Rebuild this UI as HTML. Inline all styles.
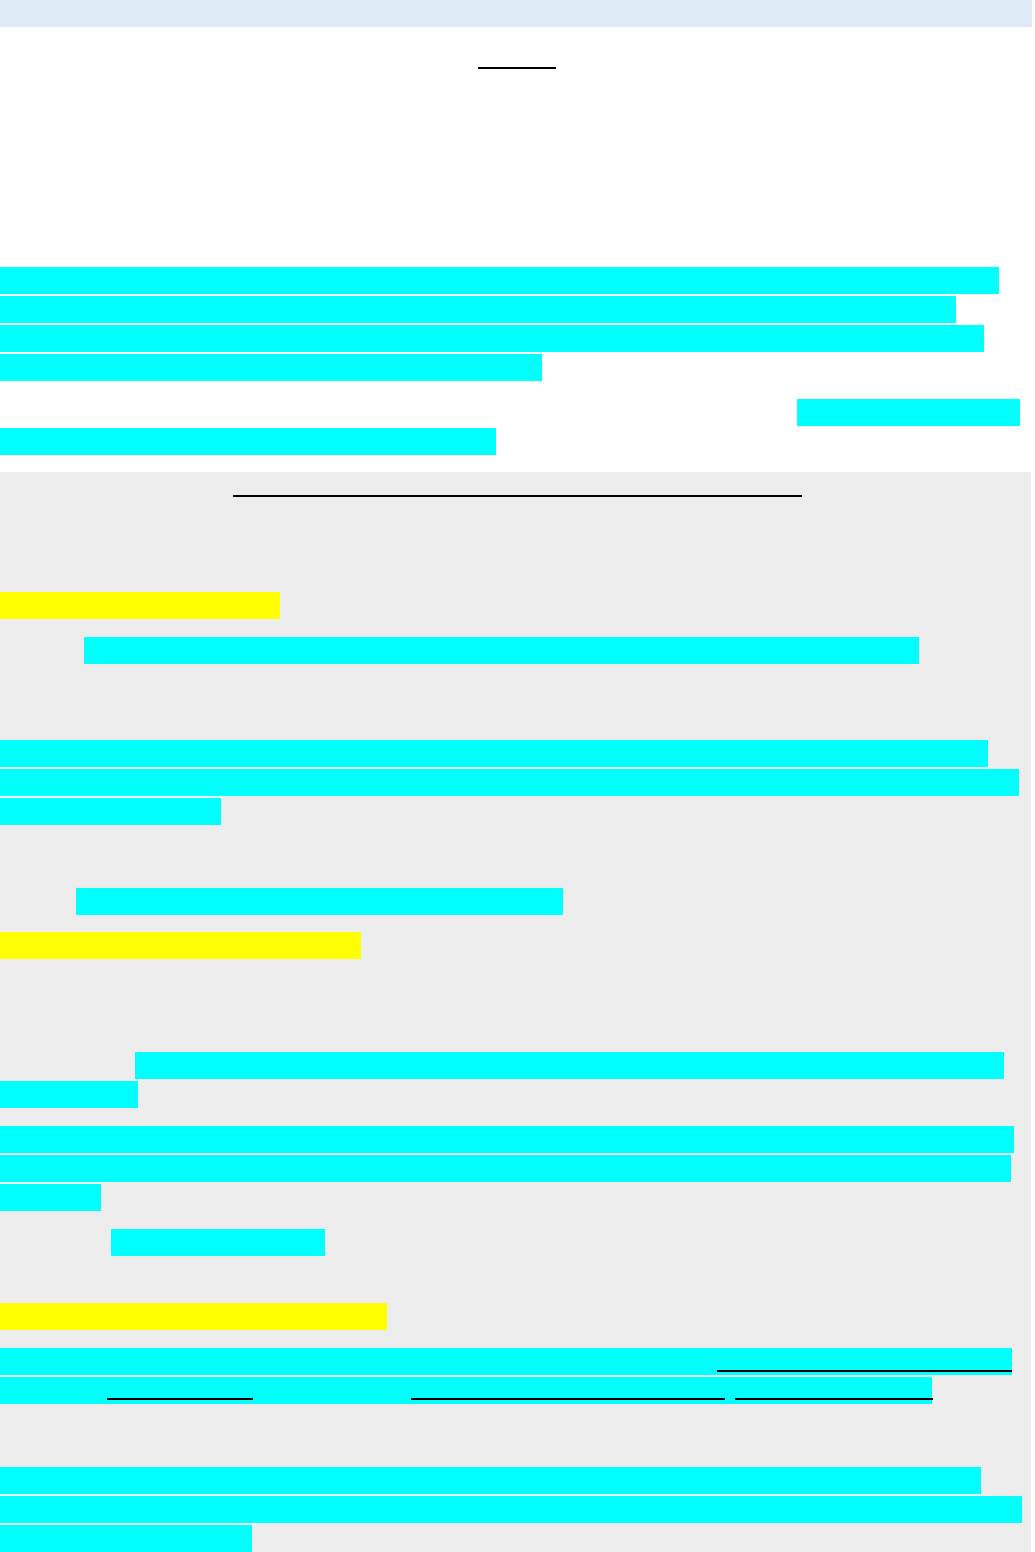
<!DOCTYPE html>
<html><head><meta charset="utf-8"><style>
html,body{margin:0;padding:0;background:#fff;width:1035px;height:1552px;overflow:hidden;position:relative;font-family:"Liberation Sans",sans-serif}
div{position:absolute}
.c{background:#00ffff}.y{background:#ffff00}.u{background:#000;height:2px}
</style></head><body>
<div style="left:0;top:0;width:1032px;height:27px;background:#deeaf5"></div>
<div style="left:0;top:472px;width:1031px;height:1080px;background:#ededed"></div>
<div class="u" style="left:478px;top:67px;width:78px"></div>
<div class="c" style="left:0;top:267px;width:999px;height:27px"></div>
<div class="c" style="left:0;top:296px;width:956px;height:27px"></div>
<div class="c" style="left:0;top:325px;width:984px;height:27px"></div>
<div class="c" style="left:0;top:354px;width:542px;height:27px"></div>
<div class="c" style="left:797px;top:399px;width:223px;height:27px"></div>
<div class="c" style="left:0;top:428px;width:496px;height:27px"></div>
<div class="u" style="left:233px;top:495px;width:569px"></div>
<div class="y" style="left:0;top:592px;width:280px;height:27px"></div>
<div class="c" style="left:84px;top:637px;width:835px;height:27px"></div>
<div class="c" style="left:0;top:740px;width:988px;height:27px"></div>
<div class="c" style="left:0;top:769px;width:1019px;height:27px"></div>
<div class="c" style="left:0;top:798px;width:221px;height:27px"></div>
<div class="c" style="left:76px;top:888px;width:487px;height:27px"></div>
<div class="y" style="left:0;top:932px;width:361px;height:27px"></div>
<div class="c" style="left:135px;top:1052px;width:869px;height:27px"></div>
<div class="c" style="left:0;top:1081px;width:138px;height:27px"></div>
<div class="c" style="left:0;top:1126px;width:1014px;height:27px"></div>
<div class="c" style="left:0;top:1155px;width:1011px;height:27px"></div>
<div class="c" style="left:0;top:1184px;width:101px;height:27px"></div>
<div class="c" style="left:111px;top:1229px;width:214px;height:27px"></div>
<div class="y" style="left:0;top:1303px;width:387px;height:27px"></div>
<div class="c" style="left:0;top:1348px;width:1012px;height:27px"></div>
<div class="u" style="left:717px;top:1370px;width:295px"></div>
<div class="c" style="left:0;top:1377px;width:932px;height:27px"></div>
<div class="u" style="left:107px;top:1398px;width:146px"></div>
<div class="u" style="left:411px;top:1398px;width:314px"></div>
<div class="u" style="left:735px;top:1398px;width:198px"></div>
<div class="c" style="left:0;top:1467px;width:981px;height:27px"></div>
<div class="c" style="left:0;top:1496px;width:1022px;height:27px"></div>
<div class="c" style="left:0;top:1525px;width:252px;height:27px"></div>
</body></html>
